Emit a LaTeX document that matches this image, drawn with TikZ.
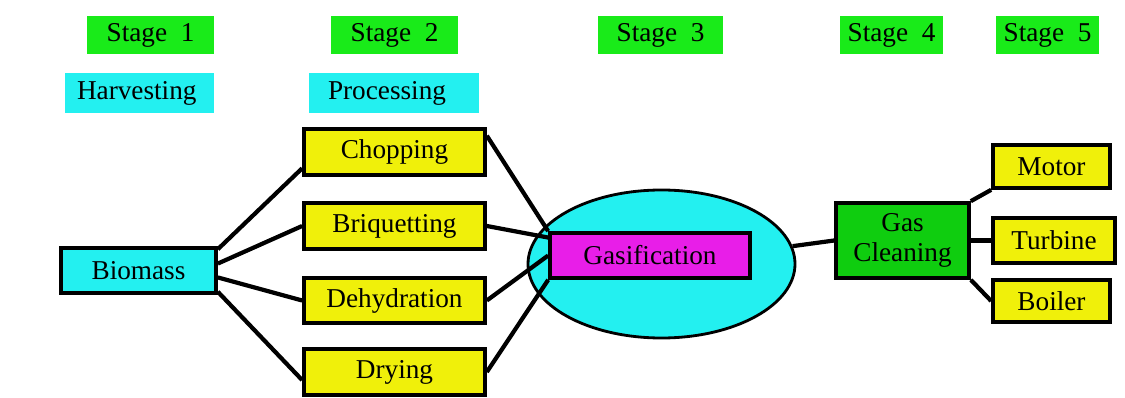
\documentclass[tikz,border=0pt]{standalone}
\usepackage{fontspec}
\setmainfont{Liberation Serif}
\usetikzlibrary{shapes.geometric}
\newdimen\px
\px=0.02cm
\definecolor{stagegreen}{RGB}{25,235,25}
\definecolor{cleangreen}{RGB}{15,205,15}
\definecolor{boxcyan}{RGB}{35,240,240}
\definecolor{boxyellow}{RGB}{240,240,10}
\definecolor{boxmagenta}{RGB}{232,30,232}
\tikzset{
    stagebox/.style={fill=stagegreen, minimum height=38\px, inner sep=0pt, font=\fontsize{15.5}{18}\selectfont},
    headbox/.style={fill=boxcyan, minimum height=40\px, inner sep=0pt, font=\fontsize{15.5}{18}\selectfont},
    procbox/.style={draw, line width=2.1pt, fill=boxyellow, minimum width=181\px, minimum height=46\px, inner sep=0pt, font=\fontsize{15.5}{18}\selectfont},
    link/.style={line width=2.4pt}
}
\begin{document}
\begin{tikzpicture}[x=0.02cm, y=-0.02cm]
    \useasboundingbox[fill=white] (0,0) rectangle (1125,398);
    % Stages
    \node[stagebox, minimum width=127\px] (st1) at (150.5,35) {Stage~~1};
    \node[stagebox, minimum width=127\px] (st2) at (394.5,35) {Stage~~2};
    \node[stagebox, minimum width=125\px] (st3) at (660.5,35) {Stage~~3};
    \node[stagebox, minimum width=103\px] (st4) at (891.5,35) {Stage~~4};
    \node[stagebox, minimum width=103\px] (st5) at (1047.5,35) {Stage~~5};
    % Headings
    \node[headbox, minimum width=149\px, text width=125\px] (harv) at (139.5,93) {Harvesting};
    \node[headbox, minimum width=170\px, text width=132\px] (proc) at (394,93) {Processing};
    % Biomass and processing steps
    \node[procbox, fill=boxcyan, minimum width=155\px, minimum height=45\px] (bio) at (138.5,270.5) {Biomass};
    \node[procbox] (chop) at (394.5,152) {Chopping};
    \node[procbox] (briq) at (394.5,226) {Briquetting};
    \node[procbox, minimum height=45\px] (dehyd) at (394.5,300.5) {Dehydration};
    \node[procbox] (dry) at (394.5,372) {Drying};
    % Gasifier
    \node[ellipse, draw, line width=1.6pt, fill=boxcyan, minimum width=267\px, minimum height=148\px, inner sep=0pt] (ell) at (661.5,264) {};
    \node[procbox, fill=boxmagenta, minimum width=200\px, minimum height=45\px] (gas) at (650,255.5) {Gasification};
    % Gas cleaning and uses
    \node[procbox, fill=cleangreen, minimum width=133\px, minimum height=75\px, align=center, font=\fontsize{15.5}{17}\selectfont] (clean) at (902.5,240.5) {Gas\\Cleaning};
    \node[procbox, minimum width=117\px, minimum height=43\px] (motor) at (1051.5,166.5) {Motor};
    \node[procbox, minimum width=122\px, minimum height=45\px] (turb) at (1054,240.5) {Turbine};
    \node[procbox, minimum width=117\px, minimum height=42\px] (boil) at (1051.5,301) {Boiler};
    % Links
    \draw[link] (bio.15) -- (chop.190);
    \draw[link] (bio.5) -- (briq.west);
    \draw[link] (bio.-5) -- (dehyd.west);
    \draw[link] (bio.-15) -- (dry.185);
    \draw[link] (chop.10) -- (gas.north west);
    \draw[link] (briq.east) -- (gas.170);
    \draw[link] (dehyd.east) -- (gas.west);
    \draw[link] (dry.east) -- (gas.south west);
    \draw[link] (clean.west) -- (ell);
    \draw[link] (clean.north east) -- (motor.south west);
    \draw[link] (clean.east) -- (turb.west);
    \draw[link] (clean.south east) -- (boil.west);
\end{tikzpicture}
\end{document}
